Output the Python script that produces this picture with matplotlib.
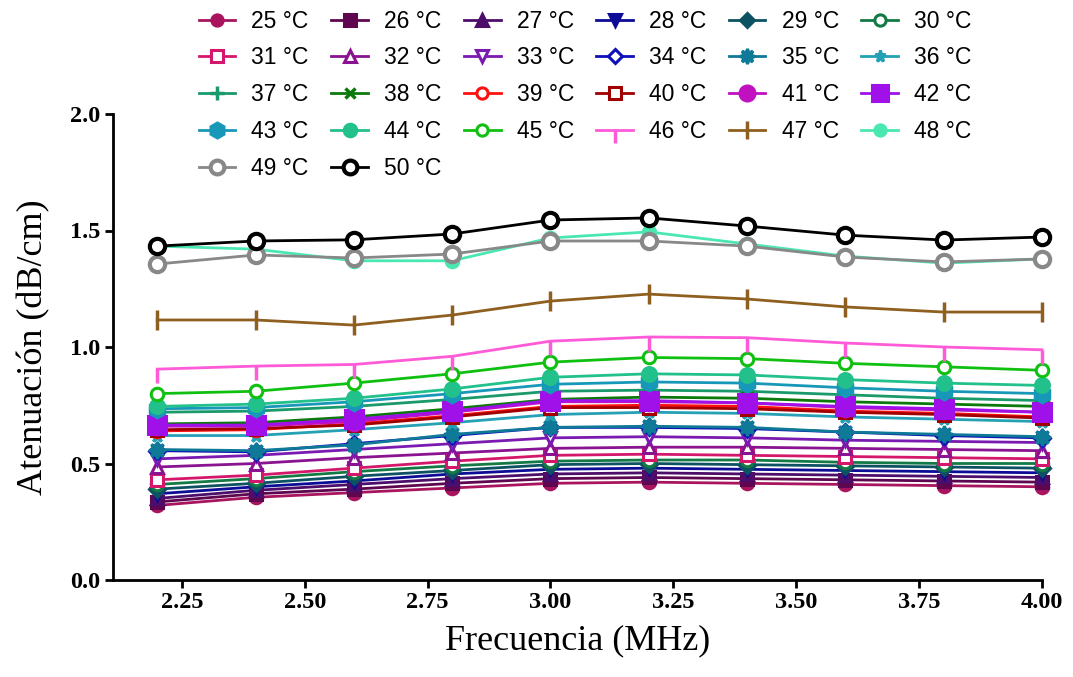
import matplotlib
matplotlib.use("Agg")
import matplotlib.pyplot as plt

# frequencies (MHz)
freq = [2.2, 2.4, 2.6, 2.8, 3.0, 3.2, 3.4, 3.6, 3.8, 4.0]

# attenuation (dB/cm) per temperature
att_25 = [0.32, 0.355, 0.375, 0.395, 0.415, 0.42, 0.415, 0.41, 0.405, 0.40]
att_26 = [0.335, 0.37, 0.39, 0.415, 0.435, 0.44, 0.435, 0.43, 0.425, 0.42]
att_27 = [0.35, 0.385, 0.41, 0.435, 0.455, 0.46, 0.455, 0.45, 0.445, 0.44]
att_28 = [0.37, 0.40, 0.425, 0.455, 0.475, 0.48, 0.475, 0.47, 0.465, 0.46]
att_29 = [0.39, 0.415, 0.445, 0.47, 0.495, 0.50, 0.495, 0.49, 0.485, 0.48]
att_30 = [0.41, 0.435, 0.465, 0.49, 0.51, 0.515, 0.515, 0.505, 0.50, 0.50]
att_31 = [0.43, 0.45, 0.48, 0.51, 0.535, 0.54, 0.535, 0.53, 0.525, 0.52]
att_32 = [0.485, 0.50, 0.525, 0.545, 0.565, 0.57, 0.57, 0.565, 0.56, 0.555]
att_33 = [0.52, 0.535, 0.56, 0.585, 0.61, 0.615, 0.61, 0.60, 0.595, 0.59]
att_34 = [0.555, 0.55, 0.585, 0.62, 0.655, 0.655, 0.65, 0.635, 0.62, 0.61]
att_35 = [0.56, 0.555, 0.58, 0.625, 0.655, 0.66, 0.655, 0.635, 0.625, 0.615]
att_36 = [0.62, 0.62, 0.645, 0.675, 0.71, 0.72, 0.715, 0.70, 0.69, 0.68]
att_37 = [0.72, 0.725, 0.745, 0.775, 0.81, 0.815, 0.81, 0.795, 0.78, 0.77]
att_38 = [0.67, 0.675, 0.70, 0.735, 0.775, 0.785, 0.78, 0.765, 0.755, 0.745]
att_39 = [0.64, 0.645, 0.67, 0.705, 0.745, 0.75, 0.745, 0.725, 0.715, 0.70]
att_40 = [0.645, 0.65, 0.665, 0.70, 0.74, 0.74, 0.735, 0.72, 0.71, 0.695]
att_41 = [0.66, 0.66, 0.68, 0.72, 0.765, 0.765, 0.76, 0.74, 0.73, 0.72]
att_42 = [0.665, 0.665, 0.69, 0.725, 0.77, 0.77, 0.76, 0.745, 0.735, 0.72]
att_43 = [0.735, 0.74, 0.765, 0.80, 0.84, 0.85, 0.845, 0.825, 0.81, 0.80]
att_44 = [0.745, 0.755, 0.78, 0.82, 0.87, 0.885, 0.88, 0.86, 0.845, 0.835]
att_45 = [0.80, 0.81, 0.845, 0.885, 0.935, 0.955, 0.95, 0.93, 0.915, 0.90]
att_46 = [0.905, 0.918, 0.925, 0.96, 1.025, 1.043, 1.04, 1.017, 1.0, 0.988]
att_47 = [1.116, 1.116, 1.094, 1.137, 1.197, 1.227, 1.206, 1.172, 1.15, 1.15]
att_48 = [1.433, 1.42, 1.37, 1.37, 1.468, 1.494, 1.442, 1.39, 1.36, 1.378]
att_49 = [1.356, 1.395, 1.382, 1.399, 1.455, 1.455, 1.433, 1.386, 1.365, 1.378]
att_50 = [1.433, 1.455, 1.46, 1.485, 1.545, 1.554, 1.519, 1.48, 1.459, 1.472]

temps = list(range(25, 51))
series = [att_25, att_26, att_27, att_28, att_29, att_30, att_31, att_32,
          att_33, att_34, att_35, att_36, att_37, att_38, att_39, att_40,
          att_41, att_42, att_43, att_44, att_45, att_46, att_47, att_48,
          att_49, att_50]

colors = ["#a8155e", "#5e0650", "#4d0d6b", "#0c0c96", "#0d5263", "#137a45",
          "#d4176b", "#8a1391", "#7a1ab0", "#1010b8", "#0e7a98", "#25a0b5",
          "#1a9a6a", "#0b7a0b", "#ff1010", "#a00000", "#c010c0", "#a010e8",
          "#1898b8", "#22c08a", "#10c010", "#ff5ad8", "#8f5f1f", "#4ae8b0",
          "#888888", "#000000"]
# (marker, filled, size)
styles = [("o", True, 9), ("s", True, 9), ("^", True, 9), ("v", True, 9),
          ("D", True, 8), ("o", False, 9), ("s", False, 9), ("^", False, 9),
          ("v", False, 9), ("D", False, 8), ((8, 1, 0), True, 12), ("*", True, 9),
          ("+", True, 11), ("x", True, 8), ("o", False, 9), ("s", False, 9),
          ("o", True, 12), ("s", True, 13), ("h", True, 12), ("o", True, 10),
          ("o", False, 9), (3, True, 10), ("|", True, 14), ("o", True, 9),
          ("o", False, 11), ("o", False, 11)]

fig = plt.figure(figsize=(10.73, 6.77), dpi=100)
ax = fig.add_axes([113 / 1073, 1 - 580 / 677, (1042 - 113) / 1073, (580 - 114) / 677])

handles = []
for t, y, c, (m, filled, ms) in zip(temps, series, colors, styles):
    mfc = c if filled else "white"
    mew = 2.5 if m in ("+", "x", "|", 3) else 2.2
    if t >= 49:
        mew = 3.0
    h, = ax.plot(freq, y, color=c, lw=2.0, marker=m, ms=ms, mfc=mfc, mec=c,
                 mew=mew, clip_on=False, label=f"{t} °C")
    handles.append(h)

ax.set_xlim(2.11, 4.0)
ax.set_ylim(0.0, 2.0)
ax.set_xticks([2.25, 2.50, 2.75, 3.00, 3.25, 3.50, 3.75, 4.00])
ax.set_xticklabels(["2.25", "2.50", "2.75", "3.00", "3.25", "3.50", "3.75", "4.00"])
ax.set_yticks([0.0, 0.5, 1.0, 1.5, 2.0])
ax.set_yticklabels(["0.0", "0.5", "1.0", "1.5", "2.0"])
for lab in ax.get_xticklabels() + ax.get_yticklabels():
    lab.set_fontfamily("Liberation Serif")
    lab.set_fontweight("bold")
    lab.set_fontsize(17.5)
ax.tick_params(direction="out", length=6, width=2, pad=3)
for s in ("top", "right"):
    ax.spines[s].set_visible(False)
for s in ("left", "bottom"):
    ax.spines[s].set_linewidth(2)

ax.set_xlabel("Frecuencia (MHz)", fontfamily="Liberation Serif", fontsize=26, labelpad=8)
ax.set_ylabel("Atenuación (dB/cm)", fontfamily="Liberation Serif", fontsize=26, labelpad=14)

# legend is filled column-wise, so reorder to read row-wise
ncol = 6
order = []
for col in range(ncol):
    order += list(range(col, len(handles), ncol))
fig.legend([handles[i] for i in order], [handles[i].get_label() for i in order],
           loc="upper left", bbox_to_anchor=(185 / 1073, 1 + 4 / 677), ncol=ncol,
           frameon=False, prop={"family": "Liberation Sans", "size": 16.5},
           handlelength=1.6, handletextpad=0.7, columnspacing=0.98,
           labelspacing=0.6, borderpad=0.1, markerscale=0.9)

fig.savefig("out.png", dpi=100)
